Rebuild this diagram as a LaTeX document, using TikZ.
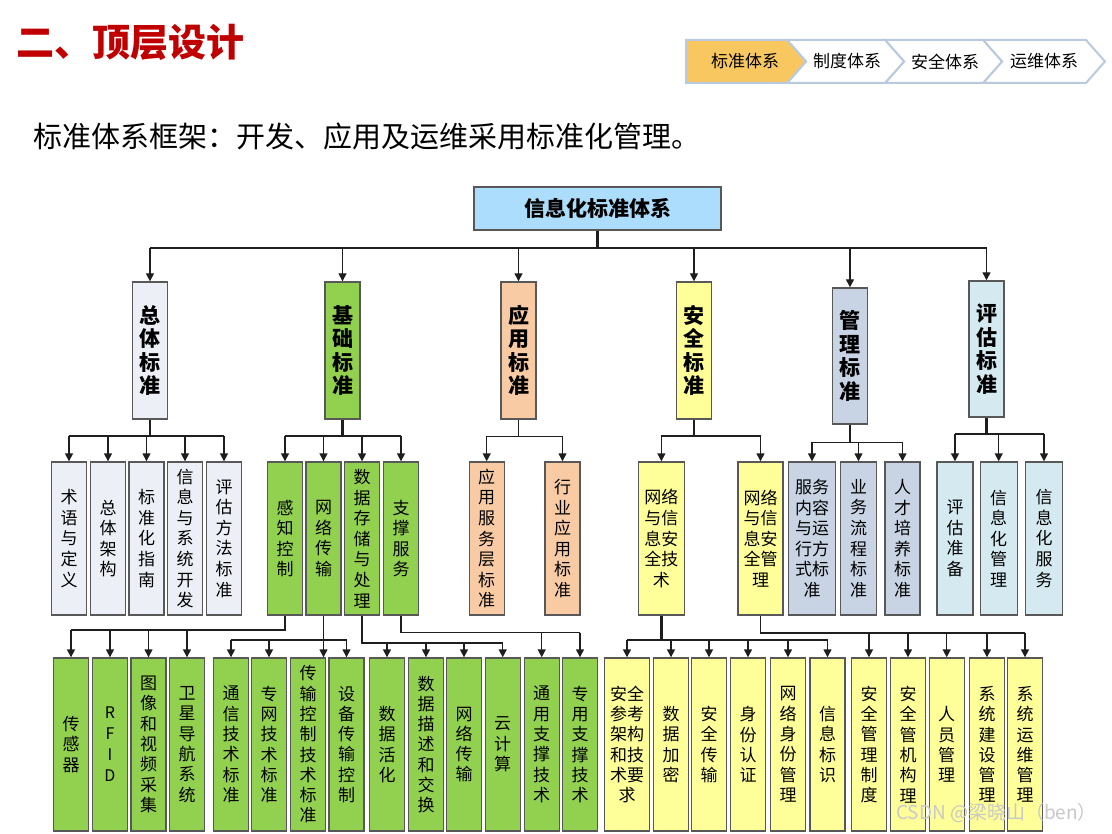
\documentclass[tikz,border=0pt]{standalone}
\usepackage{fontspec}
\newfontfamily\cjk{Noto Sans CJK SC}
\usetikzlibrary{arrows.meta}
\definecolor{titlered}{RGB}{192,0,0}
\definecolor{crumbfill}{RGB}{249,199,96}
\definecolor{crumbline}{RGB}{186,202,222}
\definecolor{rootc}{RGB}{172,221,252}
\definecolor{greyc}{RGB}{236,240,246}
\definecolor{greenc}{RGB}{146,208,80}
\definecolor{peachc}{RGB}{248,203,165}
\definecolor{yellowc}{RGB}{255,255,153}
\definecolor{bluegc}{RGB}{200,212,228}
\definecolor{cyanc}{RGB}{212,234,240}
\definecolor{bordc}{RGB}{88,88,88}
\definecolor{linec}{RGB}{30,30,30}
\definecolor{wmark}{RGB}{200,200,200}
\tikzset{
  bx/.style={draw=bordc, line width=1.4pt, inner sep=0pt, align=center, text=black},
  lvtwo/.style={bx, minimum width=35pt, minimum height=137pt, font=\cjk\bfseries\fontsize{21pt}{23.5pt}\selectfont},
  lvthree/.style={bx, minimum width=35pt, minimum height=153pt, font=\cjk\fontsize{17pt}{20.6pt}\selectfont},
  lvfour/.style={bx, minimum width=35pt, minimum height=173pt, font=\cjk\fontsize{17pt}{20.3pt}\selectfont},
  ln/.style={draw=linec, line width=1.4pt},
  lnthick/.style={draw=linec, line width=2.3pt},
  ar/.style={ln, -{Triangle[length=8pt,width=8pt]}},
  crumbtxt/.style={inner sep=0pt, font=\cjk\fontsize{17pt}{19pt}\selectfont},
}
\begin{document}
\begin{tikzpicture}[x=1pt,y=-1pt]
\useasboundingbox (0,0) rectangle (1112,834);
\fill[white] (0,0) rectangle (1112,834);

% title and subtitle
\node[anchor=west, inner sep=0pt, text=titlered, font=\cjk\bfseries\fontsize{38pt}{40pt}\selectfont] (title) at (16,42) {二、顶层设计};
\node[anchor=west, inner sep=0pt, font=\cjk\fontsize{29pt}{31pt}\selectfont] (sub) at (33,136) {标准体系框架：开发、应用及运维采用标准化管理。};

% breadcrumb
\begin{scope}[line width=2pt, draw=crumbline, line join=miter]
\filldraw[fill=white, draw=crumbline] (983,40) -- (1086,40) -- (1105,61.5) -- (1086,83) -- (983,83) -- (1002,61.5) -- cycle;
\filldraw[fill=white, draw=crumbline] (885,40) -- (983,40) -- (1002,61.5) -- (983,83) -- (885,83) -- (904,61.5) -- cycle;
\filldraw[fill=white, draw=crumbline] (787,40) -- (885,40) -- (904,61.5) -- (885,83) -- (787,83) -- (806,61.5) -- cycle;
\filldraw[fill=crumbfill, draw=crumbline] (686,40) -- (787,40) -- (806,61.5) -- (787,83) -- (686,83) -- cycle;
\end{scope}
\node[crumbtxt] (k1) at (745,61.5) {标准体系};
\node[crumbtxt] (k2) at (847,61.5) {制度体系};
\node[crumbtxt] (k3) at (945,61.5) {安全体系};
\node[crumbtxt] (k4) at (1044,61.5) {运维体系};

% root
\node[bx, fill=rootc, minimum width=247pt, minimum height=43pt, font=\cjk\bfseries\fontsize{21pt}{23pt}\selectfont] (root) at (597.5,208.5) {信息化标准体系};

% level 2
\node[lvtwo, fill=greyc]   (g1) at (150,350.5)   {总\\体\\标\\准};
\node[lvtwo, fill=greenc]  (g2) at (342.5,350.5) {基\\础\\标\\准};
\node[lvtwo, fill=peachc]  (g3) at (518.5,350.5) {应\\用\\标\\准};
\node[lvtwo, fill=yellowc] (g4) at (694,350.5)   {安\\全\\标\\准};
\node[lvtwo, fill=bluegc, minimum height=136pt] (g5) at (850,356) {管\\理\\标\\准};
\node[lvtwo, fill=cyanc, minimum height=136pt]  (g6) at (986.5,349) {评\\估\\标\\准};

% level 3
\node[lvthree, fill=greyc] (a1) at (69,538.5)    {术\\语\\与\\定\\义};
\node[lvthree, fill=greyc] (a2) at (108,538.5)   {总\\体\\架\\构};
\node[lvthree, fill=greyc] (a3) at (146.5,538.5) {标\\准\\化\\指\\南};
\node[lvthree, fill=greyc] (a4) at (185,538.5)   {信\\息\\与\\系\\统\\开\\发};
\node[lvthree, fill=greyc] (a5) at (224,538.5)   {评\\估\\方\\法\\标\\准};

\node[lvthree, fill=greenc] (c1) at (285,538.5)   {感\\知\\控\\制};
\node[lvthree, fill=greenc] (c2) at (323.5,538.5) {网\\络\\传\\输};
\node[lvthree, fill=greenc] (c3) at (362,538.5)   {数\\据\\存\\储\\与\\处\\理};
\node[lvthree, fill=greenc] (c4) at (401,538.5)   {支\\撑\\服\\务};

\node[lvthree, fill=peachc] (e1) at (486.7,538.5) {应\\用\\服\\务\\层\\标\\准};
\node[lvthree, fill=peachc] (e2) at (562.5,538.5) {行\\业\\应\\用\\标\\准};

\node[lvthree, fill=yellowc, minimum width=46pt] (c5) at (661.4,538.5) {网络\\与信\\息安\\全技\\术};
\node[lvthree, fill=yellowc, minimum width=45pt] (c6) at (760.5,538.5) {网络\\与信\\息安\\全管\\理};

\node[lvthree, fill=bluegc, minimum width=47pt] (m1) at (812,538.5)   {服务\\内容\\与运\\行方\\式标\\准};
\node[lvthree, fill=bluegc, minimum width=35.5pt] (m2) at (858.5,538.5) {业\\务\\流\\程\\标\\准};
\node[lvthree, fill=bluegc] (m3) at (902.5,538.5) {人\\才\\培\\养\\标\\准};

\node[lvthree, fill=cyanc, minimum width=36pt] (p1) at (955,538.5)    {评\\估\\准\\备};
\node[lvthree, fill=cyanc, minimum width=37pt] (p2) at (998.7,538.5)  {信\\息\\化\\管\\理};
\node[lvthree, fill=cyanc, minimum width=37pt] (p3) at (1044,538.5)   {信\\息\\化\\服\\务};

% level 4
\node[lvfour, fill=greenc] (d1)  at (71,744.5)    {传\\感\\器};
\node[lvfour, fill=greenc, font=\cjk\fontsize{16pt}{21pt}\selectfont] (d2) at (110,744.5) {R\\F\\I\\D};
\node[lvfour, fill=greenc] (d3)  at (148.5,744.5) {图\\像\\和\\视\\频\\采\\集};
\node[lvfour, fill=greenc] (d4)  at (187,744.5)   {卫\\星\\导\\航\\系\\统};
\node[lvfour, fill=greenc] (d5)  at (231,744.5)   {通\\信\\技\\术\\标\\准};
\node[lvfour, fill=greenc] (d6)  at (269,744.5)   {专\\网\\技\\术\\标\\准};
\node[lvfour, fill=greenc] (d7)  at (308,744.5)   {传\\输\\控\\制\\技\\术\\标\\准};
\node[lvfour, fill=greenc] (d8)  at (346.5,744.5) {设\\备\\传\\输\\控\\制};
\node[lvfour, fill=greenc] (d9)  at (387,744.5)   {数\\据\\活\\化};
\node[lvfour, fill=greenc] (d10) at (426,744.5)   {数\\据\\描\\述\\和\\交\\换};
\node[lvfour, fill=greenc] (d11) at (464,744.5)   {网\\络\\传\\输};
\node[lvfour, fill=greenc] (d12) at (502.7,744.5) {云\\计\\算};
\node[lvfour, fill=greenc] (d13) at (541.7,744.5) {通\\用\\支\\撑\\技\\术};
\node[lvfour, fill=greenc] (d14) at (580,744.5)   {专\\用\\支\\撑\\技\\术};

\node[lvfour, fill=yellowc, minimum width=45pt] (d15) at (627,744.5) {安全\\参考\\架构\\和技\\术要\\求};
\node[lvfour, fill=yellowc] (d16) at (671,744.5)   {数\\据\\加\\密};
\node[lvfour, fill=yellowc] (d17) at (709,744.5)   {安\\全\\传\\输};
\node[lvfour, fill=yellowc] (d18) at (748,744.5)   {身\\份\\认\\证};
\node[lvfour, fill=yellowc] (d19) at (788,744.5)   {网\\络\\身\\份\\管\\理};
\node[lvfour, fill=yellowc] (d20) at (827.5,744.5) {信\\息\\标\\识};
\node[lvfour, fill=yellowc] (d21) at (869,744.5)   {安\\全\\管\\理\\制\\度};
\node[lvfour, fill=yellowc] (d22) at (908,744.5)   {安\\全\\管\\机\\构\\理};
\node[lvfour, fill=yellowc] (d23) at (946.7,744.5) {人\\员\\管\\理};
\node[lvfour, fill=yellowc] (d24) at (987,744.5)   {系\\统\\建\\设\\管\\理};
\node[lvfour, fill=yellowc] (d25) at (1025,744.5)  {系\\统\\运\\维\\管\\理};

% bus levels
\coordinate (yb0) at (0,248);
\coordinate (yzt) at (0,436);
\coordinate (yjc) at (0,436);
\coordinate (yyy) at (0,436.5);
\coordinate (yaq) at (0,436);
\coordinate (ygl) at (0,442.5);
\coordinate (ypg) at (0,434);
\coordinate (ya1) at (0,630);
\coordinate (ya2) at (0,640);
\coordinate (ya3) at (0,643);
\coordinate (ya4) at (0,632.5);
\coordinate (ya5) at (0,640);
\coordinate (ya6) at (0,633);

% root -> level 2
\draw[lnthick] (root.south) -- (root.south |- yb0);
\draw[ln] (g1.north |- yb0) -- (g6.north |- yb0);
\foreach \n in {g1,g2,g3,g4,g5,g6} \draw[ar] (\n.north |- yb0) -- (\n.north);

% level 2 -> level 3
\draw[lnthick] (g1.south) -- (g1.south |- yzt);
\draw[ln] (a1.north |- yzt) -- (a5.north |- yzt);
\foreach \n in {a1,a2,a3,a4,a5} \draw[ar] (\n.north |- yzt) -- (\n.north);

\draw[lnthick] (g2.south) -- (g2.south |- yjc);
\draw[ln] (c1.north |- yjc) -- (c4.north |- yjc);
\foreach \n in {c1,c2,c3,c4} \draw[ar] (\n.north |- yjc) -- (\n.north);

\draw[ln] (g3.south) -- (g3.south |- yyy);
\draw[ln] (e1.north |- yyy) -- (e2.north |- yyy);
\foreach \n in {e1,e2} \draw[ar] (\n.north |- yyy) -- (\n.north);

\draw[ln] (g4.south) -- (g4.south |- yaq);
\draw[ln] (c5.north |- yaq) -- (c6.north |- yaq);
\foreach \n in {c5,c6} \draw[ar] (\n.north |- yaq) -- (\n.north);

\draw[lnthick] (g5.south) -- (g5.south |- ygl);
\draw[ln] (m1.north |- ygl) -- (m3.north |- ygl);
\foreach \n in {m1,m2,m3} \draw[ar] (\n.north |- ygl) -- (\n.north);

\draw[lnthick] (g6.south) -- (g6.south |- ypg);
\draw[ln] (p1.north |- ypg) -- (p3.north |- ypg);
\foreach \n in {p1,p2,p3} \draw[ar] (\n.north |- ypg) -- (\n.north);

% level 3 -> level 4
\draw[ln] (c1.south) -- (c1.south |- ya1) -- (d1.north |- ya1);
\foreach \n in {d1,d2,d3,d4} \draw[ar] (\n.north |- ya1) -- (\n.north);

\draw[ar] (c2.south) -- (c2.south |- d7.north);
\draw[ln] (d5.north |- ya2) -- (d8.north |- ya2);
\foreach \n in {d5,d6,d8} \draw[ar] (\n.north |- ya2) -- (\n.north);

\draw[lnthick] (c3.south) -- (c3.south |- ya3) -- (d12.north |- ya3);
\foreach \n in {d9,d10,d11,d12} \draw[ar] (\n.north |- ya3) -- (\n.north);

\draw[ln] (c4.south) -- (c4.south |- ya4) -- (d14.north |- ya4);
\foreach \n in {d13,d14} \draw[ar] (\n.north |- ya4) -- (\n.north);

\draw[lnthick] (c5.south) -- (c5.south |- ya5);
\draw[ln] (d15.north |- ya5) -- (d20.north |- ya5);
\draw[lnthick] (c5.south |- ya5) -- (d19.north |- ya5);
\foreach \n in {d15,d16,d17,d18,d19,d20} \draw[ar] (\n.north |- ya5) -- (\n.north);

\draw[ln] (c6.south) -- (c6.south |- ya6) -- (d25.north |- ya6);
\foreach \n in {d21,d22,d23,d24,d25} \draw[ar] (\n.north |- ya6) -- (\n.north);

% watermark
\node[inner sep=0pt, text=wmark, font=\cjk\fontsize{19pt}{21pt}\selectfont] (wm) at (996.5,813.5) {CSDN @梁晓山（ben）};
\end{tikzpicture}
\end{document}
